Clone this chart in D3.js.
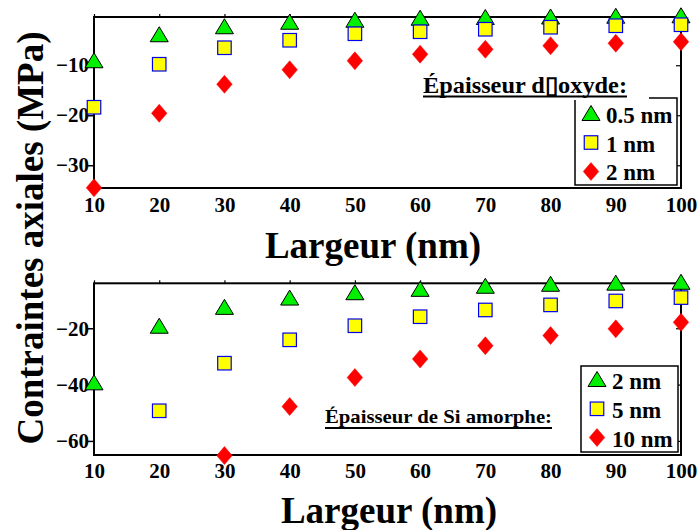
<!DOCTYPE html>
<html><head><meta charset="utf-8">
<script src="https://cdn.jsdelivr.net/npm/d3@7"></script>
<style>
html,body{margin:0;padding:0;background:#fff;}
svg text{font-family:"Liberation Serif","Times New Roman",serif;font-weight:bold;fill:#000;}
</style></head>
<body><svg id="c" width="699" height="530"></svg>
<script>
// ---- data ----
const widths = [10, 20, 30, 40, 50, 60, 70, 80, 90, 100];
const xTicks = [10, 20, 30, 40, 50, 60, 70, 80, 90, 100];
// top panel: oxide thickness
const oxide05 = [-9.0, -3.8, -2.2, -1.3, -0.9, -0.5, -0.35, -0.25, -0.1, 0.0];
const oxide1  = [-18.4, -9.8, -6.5, -5.0, -3.7, -3.3, -2.8, -2.4, -2.1, -1.9];
const oxide2  = [-34.5, -19.6, -13.8, -10.9, -9.1, -7.8, -6.8, -6.1, -5.6, -5.3];
const topYTicks = [-30, -20, -10];
const topLegendTitle = "Épaisseur d\u25AFoxyde:";
const topLegendLabels = ["0.5 nm", "1 nm", "2 nm"];
// bottom panel: amorphous Si thickness
const si2  = [-39.2, -19.1, -12.4, -9.1, -7.2, -6.0, -4.9, -4.2, -3.8, -3.5];
const si5  = [null, -49.3, -32.4, -24.1, -19.1, -15.9, -13.5, -11.7, -10.3, -9.1];
const si10 = [null, null, -65.2, -47.8, -37.5, -30.9, -26.2, -22.6, -20.2, -17.9];
const botYTicks = [-60, -40, -20];
const botLegendTitle = "Épaisseur de Si amorphe:";
const botLegendLabels = ["2 nm", "5 nm", "10 nm"];
const xLabel = "Largeur (nm)";
const yLabel = "Contraintes axiales (MPa)";

// ---- drawing ----
const svg = d3.select("#c");
const FONT = '"Liberation Serif","Times New Roman",serif';

function marker(g, type, cx, cy) {
  if (type === "tri") {
    const w = 18, h = 15;
    g.append("path").attr("d", `M${cx},${cy - h/2}L${cx + w/2},${cy + h/2}L${cx - w/2},${cy + h/2}Z`)
      .attr("fill", "#00f000").attr("stroke", "#000").attr("stroke-width", 1);
  } else if (type === "sq") {
    const s = 13.5;
    g.append("rect").attr("x", cx - s/2).attr("y", cy - s/2).attr("width", s).attr("height", s)
      .attr("fill", "#ffff00").attr("stroke", "#0000ee").attr("stroke-width", 1.2);
  } else {
    const w = 15.5, h = 18;
    g.append("path").attr("d", `M${cx},${cy - h/2}L${cx + w/2},${cy}L${cx},${cy + h/2}L${cx - w/2},${cy}Z`)
      .attr("fill", "#ff0000").attr("stroke", "#ff0000").attr("stroke-width", 0.5);
  }
}

function panel(opt) {
  const x = d3.scaleLinear().domain([10, 100]).range([94, 681]);
  const y = d3.scaleLinear().domain(opt.yDomain).range([opt.bottom, opt.top]);
  const g = svg.append("g");

  // frame
  g.append("rect").attr("x", 94).attr("y", opt.top).attr("width", 681 - 94).attr("height", opt.bottom - opt.top)
    .attr("fill", "none").attr("stroke", "#000").attr("stroke-width", 2);

  // left axis (outward ticks)
  const ay = g.append("g").attr("transform", "translate(94,0)")
    .call(d3.axisLeft(y).tickValues(opt.yTicks).tickSize(6).tickSizeOuter(0).tickPadding(-1).tickFormat(d3.format("d")));
  ay.attr("font-family", null).attr("font-size", null);
  ay.select(".domain").remove();
  ay.selectAll("line").attr("stroke", "#000").attr("stroke-width", 1.5);
  ay.selectAll("text").style("font-family", FONT).style("font-weight", "bold").style("font-size", "21px").attr("fill", "#000");

  // right inner ticks
  g.append("g").attr("transform", "translate(681,0)")
    .call(d3.axisRight(y).tickValues(opt.yTicks).tickSize(-5).tickSizeOuter(0).tickFormat(""))
    .call(s => s.select(".domain").remove())
    .selectAll("line").attr("stroke", "#000").attr("stroke-width", 1.2);

  // top outer ticks
  g.append("g").attr("transform", `translate(0,${opt.top})`)
    .call(d3.axisTop(x).tickValues(xTicks).tickSize(3).tickSizeOuter(0).tickFormat(""))
    .call(s => s.select(".domain").remove())
    .selectAll("line").attr("stroke", "#000").attr("stroke-width", 1.2);

  // bottom axis labels
  const ax = g.append("g").attr("transform", `translate(0,${opt.bottom})`)
    .call(d3.axisBottom(x).tickValues(xTicks).tickSize(0).tickPadding(opt.xPad).tickFormat(d3.format("d")));
  ax.attr("font-family", null).attr("font-size", null);
  ax.select(".domain").remove();
  ax.selectAll("text").style("font-family", FONT).style("font-weight", "bold").style("font-size", "21px").attr("fill", "#000");

  // x label
  g.append("text").attr("x", opt.xLabelX).attr("y", opt.xLabelY).attr("text-anchor", "middle")
    .style("font-size", "37px").text(xLabel);

  // series
  const series = [["tri", opt.s[0]], ["sq", opt.s[1]], ["dia", opt.s[2]]];
  series.forEach(([t, vals]) => {
    const mg = g.append("g");
    vals.forEach((v, i) => { if (v !== null) marker(mg, t, x(widths[i]), y(v)); });
  });

  // legend
  const L = opt.legend;
  const lg = svg.append("g");
  lg.append("rect").attr("x", L.x0).attr("y", L.y0).attr("width", L.x1 - L.x0).attr("height", L.y1 - L.y0)
    .attr("fill", "#fff").attr("stroke", "#000").attr("stroke-width", 1.5);
  if (L.maskW) {
    lg.append("rect").attr("x", L.maskX).attr("y", L.maskY).attr("width", L.maskW).attr("height", L.maskH).attr("fill", "#fff");
  }
  ["tri", "sq", "dia"].forEach((t, i) => {
    marker(lg, t, L.mx, L.my[i]);
    lg.append("text").attr("x", L.tx).attr("y", L.ty[i]).style("font-size", "23px").text(L.labels[i]);
  });
  lg.append("text").attr("x", L.titleX).attr("y", L.titleY).style("font-size", L.titleSize)
    .attr("textLength", L.titleW).attr("lengthAdjust", "spacingAndGlyphs").text(L.title);
  lg.append("line").attr("x1", L.titleX).attr("x2", L.titleX + L.titleW).attr("y1", L.ulY).attr("y2", L.ulY)
    .attr("stroke", "#000").attr("stroke-width", 2.2);
}

panel({
  top: 17, bottom: 188, yDomain: [-34.55, -0.35], yTicks: topYTicks, xPad: 9,
  xLabelX: 373, xLabelY: 258,
  s: [oxide05, oxide1, oxide2],
  legend: { x0: 575, y0: 98, x1: 677, y1: 185, maskX: 560, maskY: 90, maskW: 89, maskH: 10,
    mx: 591, my: [113, 142.5, 171.5], tx: 606, ty: [123, 151.5, 180], labels: topLegendLabels,
    title: topLegendTitle, titleX: 423, titleY: 92.5, titleW: 204, titleSize: "24px", ulY: 96.5 }
});

panel({
  top: 283.3, bottom: 455, yDomain: [-65, -4.03], yTicks: botYTicks, xPad: 8,
  xLabelX: 389, xLabelY: 523,
  s: [si2, si5, si10],
  legend: { x0: 581, y0: 366, x1: 678, y1: 452,
    mx: 597, my: [379, 408.8, 437.5], tx: 612, ty: [389.3, 417.7, 446.7], labels: botLegendLabels,
    title: botLegendTitle, titleX: 325, titleY: 423, titleW: 227, titleSize: "19px", ulY: 428 }
});

// shared y label
svg.append("text").attr("transform", "translate(43,238) rotate(-90)").attr("text-anchor", "middle")
  .style("font-size", "37px").text(yLabel);
</script></body></html>
